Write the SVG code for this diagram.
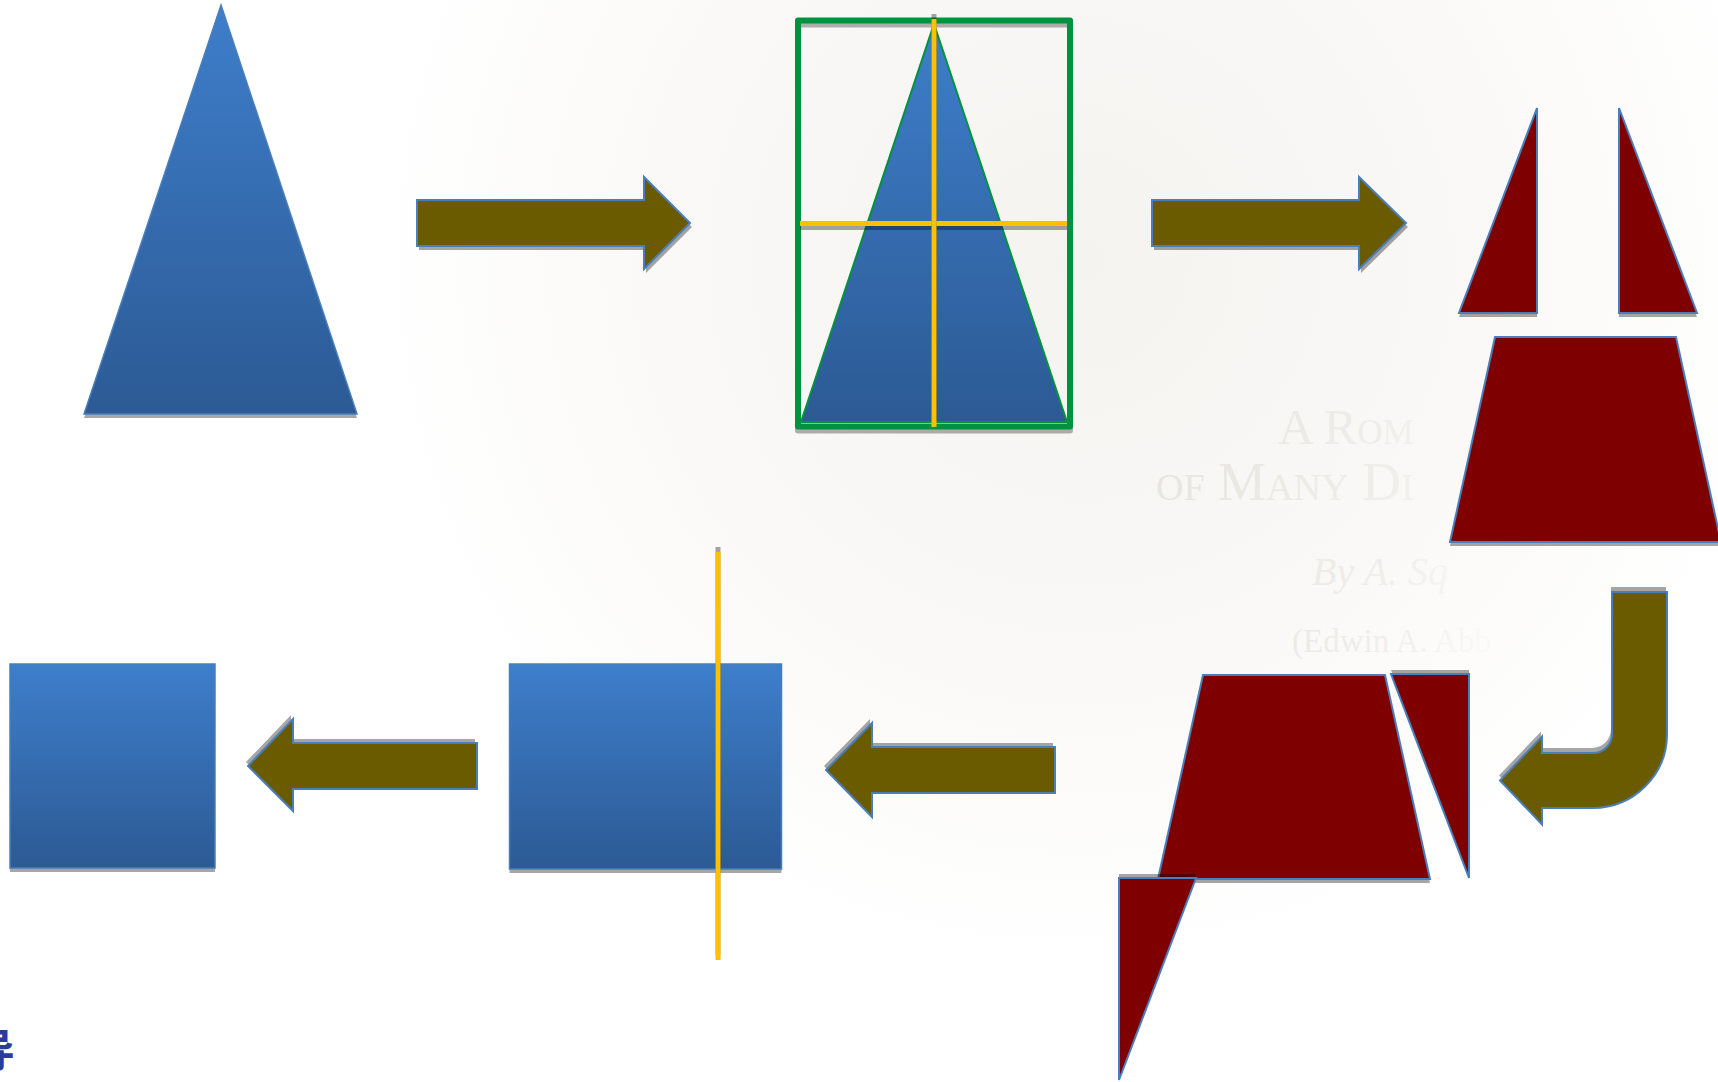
<svg xmlns="http://www.w3.org/2000/svg" width="1718" height="1082" viewBox="0 0 1718 1082">
<defs>
<linearGradient id="blue" x1="0" y1="0" x2="0" y2="1">
<stop offset="0" stop-color="#3e7ecb"/>
<stop offset="1" stop-color="#2c5a94"/>
</linearGradient>
<radialGradient id="bg" gradientUnits="userSpaceOnUse" cx="1080" cy="260" r="700">
<stop offset="0" stop-color="#f5f3f0"/>
<stop offset="0.6" stop-color="#faf9f7"/>
<stop offset="1" stop-color="#ffffff"/>
</radialGradient>
<linearGradient id="wm" gradientUnits="userSpaceOnUse" x1="1150" y1="0" x2="1520" y2="0">
<stop offset="0" stop-color="#e8e5e1" stop-opacity="1"/>
<stop offset="0.6" stop-color="#e8e5e1" stop-opacity="0.6"/>
<stop offset="1" stop-color="#e8e5e1" stop-opacity="0"/>
</linearGradient>
<style>
.bl{fill:url(#blue);stroke:#4a7ebb;stroke-width:1.5;stroke-linejoin:miter}
.rd{fill:#7f0000;stroke:#4a7ebb;stroke-width:2;stroke-linejoin:miter}
.ar{fill:#6b5b00;stroke:#4a7ebb;stroke-width:2;stroke-linejoin:miter}
.sh{fill:#000;fill-opacity:0.35;stroke:none}
.ye{stroke:#ffc000;stroke-width:5;fill:none}
.ysh{stroke:#000;stroke-opacity:0.35;stroke-width:5;fill:none}
.wm{font-family:"Liberation Serif",serif;fill:url(#wm)}
</style>
</defs>

<rect x="0" y="0" width="1718" height="1082" fill="url(#bg)"/>

<g id="watermark">
<text class="wm" x="1278" y="444" font-size="50" style="font-variant:small-caps">A Rom</text>
<text class="wm" x="1156" y="500" font-size="54" style="font-variant:small-caps">of Many Di</text>
<text class="wm" x="1312" y="585" font-size="40" font-style="italic">By A. Sq</text>
<text class="wm" x="1292" y="652" font-size="33">(Edwin A. Abb</text>
</g>

<g id="triangle-original">
<polygon class="sh" points="221,9 357,418 84,418"/>
<polygon class="bl" points="221,5 357,414 84,414"/>
</g>

<g id="triangle-cut">
<polygon points="934,24 1067,422 801,422" style="fill:url(#blue);stroke:#00923f;stroke-width:2"/>
<rect x="798" y="24.5" width="272" height="406" fill="none" stroke="#000" stroke-opacity="0.3" stroke-width="6" stroke-linejoin="round"/>
<rect x="798" y="20.5" width="272" height="406" fill="none" stroke="#00923f" stroke-width="6" stroke-linejoin="round"/>
<line class="ysh" x1="800" y1="227.5" x2="1067" y2="227.5"/>
<line class="ye" x1="800" y1="223.5" x2="1067" y2="223.5"/>
<line class="ysh" x1="934" y1="14" x2="934" y2="420"/>
<line class="ye" x1="934" y1="19" x2="934" y2="427"/>
</g>

<g id="pieces-top">
<polygon class="sh" points="1537,112 1537,317 1459,317"/>
<polygon class="rd" points="1537,108 1537,313 1459,313"/>
<polygon class="sh" points="1619,112 1697,317 1619,317"/>
<polygon class="rd" points="1619,108 1697,313 1619,313"/>
<polygon class="sh" points="1495,341 1676,341 1721,546 1450,546"/>
<polygon class="rd" points="1495,337 1676,337 1721,542 1450,542"/>
</g>

<g id="pieces-rearranged">
<polygon class="sh" points="1203,679 1385,679 1430,883 1158,883"/>
<polygon class="rd" points="1203,675 1385,675 1430,879 1158,879"/>
<polygon class="sh" points="1391,670 1469,670 1469,874"/>
<polygon class="rd" points="1391,674 1469,674 1469,878"/>
<polygon class="sh" points="1119,874 1196,874 1119,1076"/>
<polygon class="rd" points="1119,878 1196,878 1119,1080"/>
</g>

<g id="rectangle-cut">
<rect class="sh" x="509.5" y="668" width="272" height="205"/>
<rect class="bl" x="509.5" y="664" width="272" height="205"/>
<line class="ysh" x1="718" y1="547" x2="718" y2="955"/>
<line class="ye" x1="718" y1="552" x2="718" y2="960"/>
</g>

<g id="square-result">
<rect class="sh" x="10" y="668" width="205" height="204"/>
<rect class="bl" x="10" y="664" width="205" height="204"/>
</g>

<g id="character">
<text x="-29" y="1067" font-size="44" font-weight="bold" fill="#2b3c9f" font-family="Noto Sans CJK SC, sans-serif">导</text>
</g>

<g id="connectors">
<path class="sh" d="M419,204 L646,204 L646,181 L692,227 L646,273 L646,250 L419,250 Z"/>
<path class="ar" d="M417,200 L644,200 L644,177 L690,223 L644,269 L644,246 L417,246 Z"/>
<path class="sh" d="M1154,204 L1361,204 L1361,181 L1408,227 L1361,273 L1361,250 L1154,250 Z"/>
<path class="ar" d="M1152,200 L1359,200 L1359,177 L1406,223 L1359,269 L1359,246 L1152,246 Z"/>
<path class="sh" d="M1611,587 L1666,587 L1666,729 A74,74 0 0 1 1592,803 L1541,803 L1541,819.5 L1499,775.5 L1541,731.5 L1541,748 L1592,748 A19,19 0 0 0 1611,729 Z"/>
<path class="ar" d="M1612,592 L1667,592 L1667,734 A74,74 0 0 1 1593,808 L1542,808 L1542,824.5 L1500,780.5 L1542,736.5 L1542,753 L1593,753 A19,19 0 0 0 1612,734 Z"/>
<path class="sh" d="M1053,743 L870,743 L870,719 L824,766 L870,813 L870,789 L1053,789 Z"/>
<path class="ar" d="M1055,747 L872,747 L872,723 L826,770 L872,817 L872,793 L1055,793 Z"/>
<path class="sh" d="M475,739 L291,739 L291,715 L246,762 L291,807 L291,785 L475,785 Z"/>
<path class="ar" d="M477,743 L293,743 L293,719 L248,766 L293,811 L293,789 L477,789 Z"/>
</g>
</svg>
